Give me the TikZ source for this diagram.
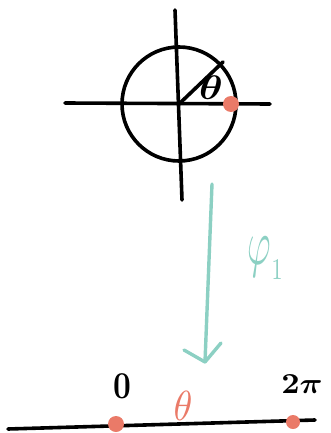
\documentclass[tikz,border=0pt]{standalone}
\usepackage{tikz}
\usepackage{graphicx}
\usepackage{amsmath}
\definecolor{dotred}{RGB}{234,122,104}
\definecolor{teal1}{RGB}{140,208,195}
\begin{document}
\begin{tikzpicture}[x=1pt,y=-1pt,line cap=round,
  blk/.style={line width=3.6pt,black},
  dot/.style={circle,fill=dotred,minimum size=16pt,inner sep=0pt},
  lbl/.style={inner sep=0pt}]
\useasboundingbox (0,0) rectangle (330,433);
% circle diagram
\coordinate (c) at (179,104);
\draw[blk] (c) circle (57);
\coordinate (hl) at (65,103);
\coordinate (hr) at (270,104);
\coordinate (vt) at (175,10);
\coordinate (vb) at (182,200);
\coordinate (rp) at (223,62);
\draw[blk] (hl) -- (hr);
\draw[blk] (vt) -- (vb);
\draw[blk] (c) -- (rp);
\node[lbl] (th1) at (211,88) {\scalebox{4}[3.4]{$\boldsymbol{\theta}$}};
\node[dot] (d1) at (231,104) {};
% arrow
\coordinate (as) at (212,184);
\coordinate (ae) at (205,362);
\coordinate (al) at (184,350);
\coordinate (ar) at (221,343);
\draw[teal1,line width=3.4pt,line join=round] (as) -- (ae);
\draw[teal1,line width=3.4pt,line join=round] (al) -- (ae) -- (ar);
\node[lbl,text=teal1] (phi) at (259,257) {\scalebox{3.6}[6.4]{$\varphi$}};
\node[lbl,text=teal1] (one) at (277,270) {\scalebox{2.2}[3]{$1$}};
% number line
\coordinate (ll) at (8,429);
\coordinate (lr) at (315,420);
\draw[blk] (ll) -- (lr);
\node[dot] (d0) at (116,424) {};
\node[dot,minimum size=14pt] (d2) at (293,422) {};
\node[lbl] (z) at (122,386) {\scalebox{3.1}[3.8]{$\mathbf{0}$}};
\node[lbl] (tp) at (302,384) {\scalebox{3.2}[2.9]{$\mathbf{2}\boldsymbol{\pi}$}};
\node[lbl,text=dotred] (th2) at (183,406) {\scalebox{3.8}[4.2]{$\theta$}};
\end{tikzpicture}
\end{document}
